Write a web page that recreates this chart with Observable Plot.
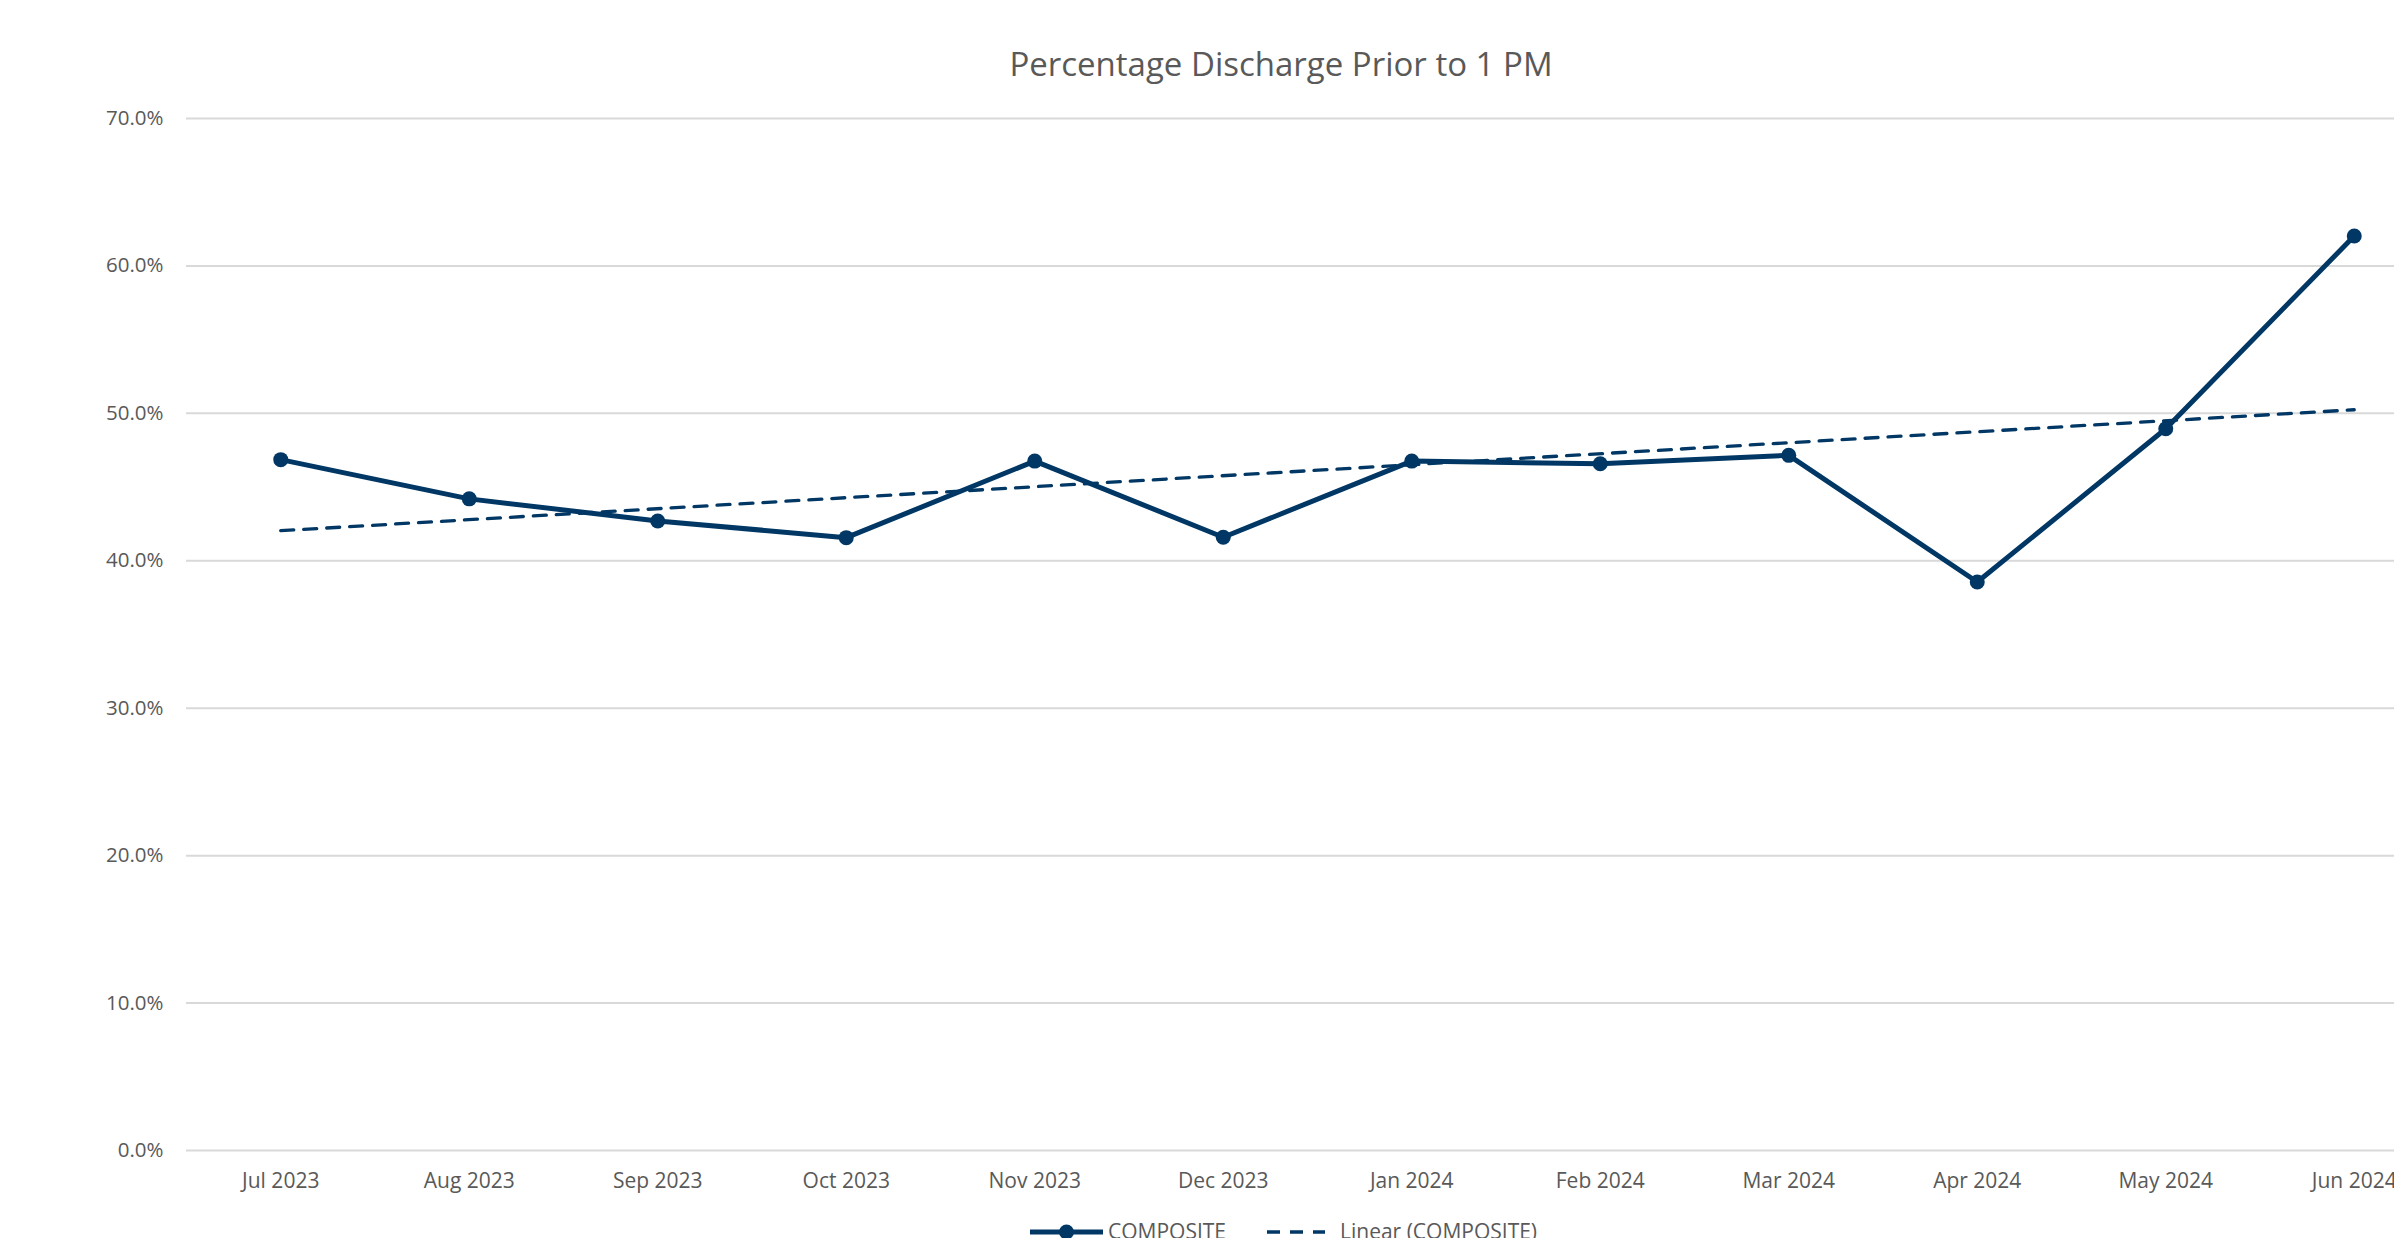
<!DOCTYPE html>
<html><head><meta charset="utf-8">
<script src="https://cdn.jsdelivr.net/npm/d3@7"></script>
<script src="https://cdn.jsdelivr.net/npm/@observablehq/plot@0.6"></script>
<style>
html,body{margin:0;padding:0;background:#fff;overflow:hidden;width:2394px;height:1238px;}
body{font-family:"Open Sans",sans-serif;color:#595959;}
#title{box-sizing:border-box;width:2394px;height:90px;padding-top:41px;padding-left:168px;text-align:center;font-size:33px;line-height:45px;white-space:nowrap;}
#chart svg{display:block;overflow:hidden;max-width:none;}
#legend{position:relative;height:60px;font-size:21px;}
#legend .sw{position:absolute;top:12px;}
#legend .tx{position:absolute;top:7px;line-height:29px;white-space:nowrap;}
</style>
</head>
<body>
<div id="title">Percentage Discharge Prior to 1 PM</div>
<div id="chart"></div>
<div id="legend"></div>
<script>
const months = ["Jul 2023","Aug 2023","Sep 2023","Oct 2023","Nov 2023","Dec 2023","Jan 2024","Feb 2024","Mar 2024","Apr 2024","May 2024","Jun 2024"];
const values = [46.86,44.2,42.7,41.57,46.76,41.6,46.76,46.58,47.15,38.56,48.96,62.03];
const yTicks = [0,10,20,30,40,50,60,70];
const seriesName = "COMPOSITE";
const trendName = "Linear (COMPOSITE)";

const navy = "#003764";
const data = months.map((m,i)=>({i, month:m, value:values[i]}));

const plot = Plot.plot({
  width:2394, height:1120,
  marginTop:28, marginBottom:60, marginLeft:186, marginRight:0,
  style:{fontFamily:"Open Sans", fontSize:"20.5px", color:"#595959", background:"transparent", overflow:"hidden"},
  x:{type:"linear", domain:[-0.5, 11.2135]},
  y:{domain:[0,70]},
  marks:[
    Plot.ruleY(yTicks, {stroke:"#d9d9d9", strokeWidth:2}),
    Plot.axisY(yTicks, {tickSize:0, tickPadding:23, tickFormat:d=>d.toFixed(1)+"%", fontSize:20.5, label:null}),
    Plot.axisX(d3.range(months.length), {tickSize:0, tickPadding:23, tickFormat:i=>months[i], fontSize:21, label:null}),
    Plot.linearRegressionY(data,{x:"i", y:"value", stroke:navy, strokeWidth:3.3, strokeDasharray:"13,10", ci:0}),
    Plot.line(data,{x:"i", y:"value", stroke:navy, strokeWidth:5, strokeLinejoin:"round"}),
    Plot.dot(data,{x:"i", y:"value", r:7.5, fill:navy, stroke:null})
  ]
});
document.getElementById("chart").appendChild(plot);

const lg = document.getElementById("legend");
lg.innerHTML = `
<svg class="sw" style="left:1030px" width="73" height="20"><line x1="0" x2="73" y1="10" y2="10" stroke="${navy}" stroke-width="5"/><circle cx="36.5" cy="10" r="7.5" fill="${navy}"/></svg>
<div class="tx" style="left:1108px">${seriesName}</div>
<svg class="sw" style="left:1267px" width="58" height="20"><line x1="0" x2="58" y1="10" y2="10" stroke="${navy}" stroke-width="3.3" stroke-dasharray="13,10"/></svg>
<div class="tx" style="left:1340px">${trendName}</div>`;
</script>
</body></html>
